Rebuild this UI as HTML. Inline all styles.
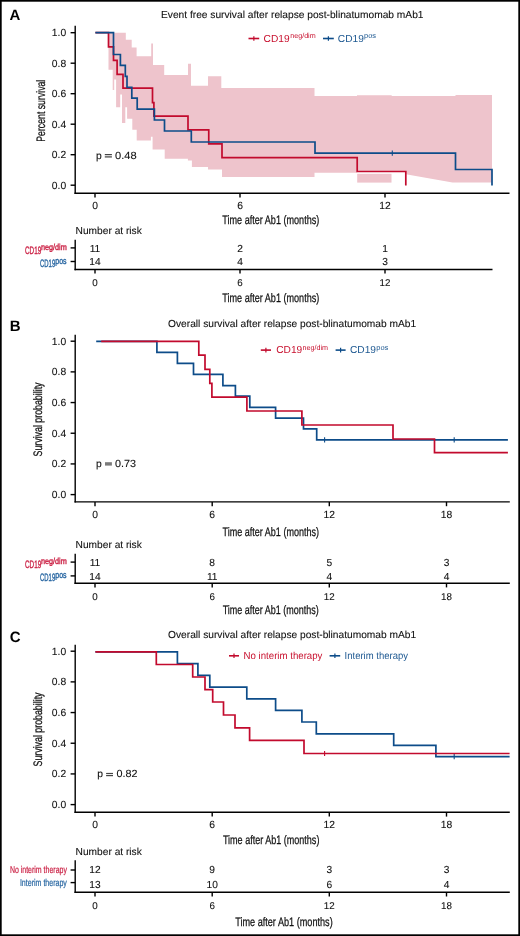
<!DOCTYPE html>
<html><head><meta charset="utf-8"><title>KM plots</title>
<style>html,body{margin:0;padding:0;background:#fff;}svg{display:block;will-change:transform;}text{font-family:"Liberation Sans",sans-serif;text-rendering:geometricPrecision;}</style>
</head><body>
<svg width="520" height="936" viewBox="0 0 520 936">
<rect x="0" y="0" width="520" height="936" fill="#fff"/>
<!-- Panel A -->
<text x="9.60" y="19.80" font-size="15" fill="#000" color="#000" text-anchor="start" font-weight="bold">A</text>
<text x="161.00" y="17.90" font-size="10.2" fill="#111" color="#111" text-anchor="start" font-weight="normal" textLength="262.50" lengthAdjust="spacingAndGlyphs" stroke="#111" stroke-width="0.1">Event free survival after relapse post-blinatumomab mAb1</text>
<polygon fill="#EEC4CC" points="108.5,32.7 125.8,32.7 125.8,39.7 131.7,39.7 131.7,47.6 136.6,47.6 136.6,56.2 151.2,56.2 151.2,43.5 153.0,43.5 153.0,65.0 164.2,65.0 164.2,75.0 188.0,75.0 188.0,63.7 191.0,63.7 191.0,85.7 208.0,85.7 208.0,76.2 221.3,76.2 221.3,88.0 314.5,88.0 314.5,96.0 357.0,96.0 357.0,95.3 391.7,95.3 391.7,96.0 455.5,96.0 455.5,95.0 492.0,95.0 492.0,182.5 452.5,182.5 405.8,174.2 405.8,171.5 357.2,171.5 357.2,172.8 314.5,172.8 314.5,177.0 222.0,177.0 222.0,169.5 208.0,169.5 208.0,167.0 191.9,167.0 191.9,160.4 187.9,160.4 187.9,158.8 164.7,158.8 164.7,149.6 152.6,149.6 152.6,136.8 150.9,136.8 150.9,140.6 136.7,140.6 136.7,129.7 132.3,129.7 132.3,118.8 127.1,118.8 127.1,107.3 125.3,107.3 125.3,122.9 122.0,122.9 122.0,94.6 120.2,94.6 120.2,107.3 116.1,107.3 116.1,79.6 114.2,79.6 114.2,90.0 112.7,90.0 112.7,69.8 108.5,69.8"/>
<rect x="357.2" y="173.8" width="34.3" height="8.8" fill="#EEC4CC"/>
<line x1="75.20" y1="25.80" x2="75.20" y2="194.00" stroke="#000" stroke-width="1.4"/>
<line x1="70.60" y1="32.70" x2="75.20" y2="32.70" stroke="#000" stroke-width="1.4"/>
<text x="66.20" y="36.20" font-size="10.3" fill="#111" color="#111" text-anchor="end" font-weight="normal" stroke="#111" stroke-width="0.1">1.0</text>
<line x1="70.60" y1="63.20" x2="75.20" y2="63.20" stroke="#000" stroke-width="1.4"/>
<text x="66.20" y="66.70" font-size="10.3" fill="#111" color="#111" text-anchor="end" font-weight="normal" stroke="#111" stroke-width="0.1">0.8</text>
<line x1="70.60" y1="93.70" x2="75.20" y2="93.70" stroke="#000" stroke-width="1.4"/>
<text x="66.20" y="97.20" font-size="10.3" fill="#111" color="#111" text-anchor="end" font-weight="normal" stroke="#111" stroke-width="0.1">0.6</text>
<line x1="70.60" y1="124.20" x2="75.20" y2="124.20" stroke="#000" stroke-width="1.4"/>
<text x="66.20" y="127.70" font-size="10.3" fill="#111" color="#111" text-anchor="end" font-weight="normal" stroke="#111" stroke-width="0.1">0.4</text>
<line x1="70.60" y1="154.70" x2="75.20" y2="154.70" stroke="#000" stroke-width="1.4"/>
<text x="66.20" y="158.20" font-size="10.3" fill="#111" color="#111" text-anchor="end" font-weight="normal" stroke="#111" stroke-width="0.1">0.2</text>
<line x1="70.60" y1="185.20" x2="75.20" y2="185.20" stroke="#000" stroke-width="1.4"/>
<text x="66.20" y="188.70" font-size="10.3" fill="#111" color="#111" text-anchor="end" font-weight="normal" stroke="#111" stroke-width="0.1">0.0</text>
<line x1="74.50" y1="193.30" x2="509.50" y2="193.30" stroke="#000" stroke-width="1.4"/>
<line x1="95.00" y1="193.30" x2="95.00" y2="197.60" stroke="#000" stroke-width="1.4"/>
<text x="95.00" y="208.80" font-size="10.3" fill="#111" color="#111" text-anchor="middle" font-weight="normal" stroke="#111" stroke-width="0.1">0</text>
<line x1="240.00" y1="193.30" x2="240.00" y2="197.60" stroke="#000" stroke-width="1.4"/>
<text x="240.00" y="208.80" font-size="10.3" fill="#111" color="#111" text-anchor="middle" font-weight="normal" stroke="#111" stroke-width="0.1">6</text>
<line x1="385.00" y1="193.30" x2="385.00" y2="197.60" stroke="#000" stroke-width="1.4"/>
<text x="385.00" y="208.80" font-size="10.3" fill="#111" color="#111" text-anchor="middle" font-weight="normal" stroke="#111" stroke-width="0.1">12</text>
<text transform="translate(44.60,110.70) rotate(-90)" x="0" y="0" font-size="12.3" fill="#111" stroke="#111" stroke-width="0.25" text-anchor="middle" textLength="62.00" lengthAdjust="spacingAndGlyphs">Percent survival</text>
<text x="222.30" y="224.00" font-size="12.3" fill="#111" color="#111" text-anchor="start" font-weight="normal" textLength="97.00" lengthAdjust="spacingAndGlyphs" stroke="#111" stroke-width="0.25">Time after Ab1 (months)</text>
<path d="M95.40,32.70 H108.50 V46.90 H113.50 V60.30 H117.10 V74.30 H123.00 V88.20 H152.50 V102.60 H153.90 V116.20 H188.00 V129.90 H208.75 V143.80 H222.00 V157.60 H357.20 V171.50 H405.80 V185.60" fill="none" stroke="#C20A2D" stroke-width="1.7" stroke-linejoin="miter" stroke-linecap="butt"/>
<path d="M95.40,32.70 H113.50 V54.50 H120.40 V65.40 H125.30 V76.30 H127.00 V87.30 H131.80 V98.20 H137.20 V109.20 H154.40 V120.00 H164.50 V131.00 H191.30 V142.00 H315.00 V153.10 H455.50 V169.50 H492.00 V185.60" fill="none" stroke="#0D4C89" stroke-width="1.7" stroke-linejoin="miter" stroke-linecap="butt"/>
<line x1="392.30" y1="150.50" x2="392.30" y2="155.70" stroke="#0D4C89" stroke-width="1.1"/>
<line x1="248.50" y1="38.50" x2="259.20" y2="38.50" stroke="#C20A2D" stroke-width="1.6"/>
<line x1="253.85" y1="36.20" x2="253.85" y2="40.80" stroke="#C20A2D" stroke-width="1.2"/>
<text x="263.60" y="41.80" font-size="10.2" fill="#C8102E" color="#C8102E" text-anchor="start" font-weight="normal" textLength="26.00" lengthAdjust="spacingAndGlyphs">CD19</text>
<text x="290.20" y="38.20" font-size="7.2" fill="#C8102E" color="#C8102E" text-anchor="start" font-weight="normal" textLength="25.50" lengthAdjust="spacingAndGlyphs">neg/dim</text>
<line x1="323.00" y1="38.50" x2="333.80" y2="38.50" stroke="#0D4C89" stroke-width="1.6"/>
<line x1="328.40" y1="36.20" x2="328.40" y2="40.80" stroke="#0D4C89" stroke-width="1.2"/>
<text x="337.80" y="41.80" font-size="10.2" fill="#1D5891" color="#1D5891" text-anchor="start" font-weight="normal" textLength="26.00" lengthAdjust="spacingAndGlyphs">CD19</text>
<text x="364.00" y="38.20" font-size="7.2" fill="#1D5891" color="#1D5891" text-anchor="start" font-weight="normal" textLength="12.00" lengthAdjust="spacingAndGlyphs">pos</text>
<text x="96.00" y="159.00" font-size="10.3" fill="#111" color="#111" text-anchor="start" font-weight="normal" stroke="#111" stroke-width="0.1">p</text>
<line x1="104.80" y1="154.60" x2="111.90" y2="154.60" stroke="#444" stroke-width="1.25"/>
<line x1="104.80" y1="156.90" x2="111.90" y2="156.90" stroke="#444" stroke-width="1.25"/>
<text x="115.00" y="159.00" font-size="10.3" fill="#111" color="#111" text-anchor="start" font-weight="normal" textLength="21.60" lengthAdjust="spacingAndGlyphs" stroke="#111" stroke-width="0.1">0.48</text>
<text x="75.60" y="234.20" font-size="10.2" fill="#111" color="#111" text-anchor="start" font-weight="normal" textLength="66.20" lengthAdjust="spacingAndGlyphs" stroke="#111" stroke-width="0.1">Number at risk</text>
<line x1="75.20" y1="239.70" x2="75.20" y2="270.20" stroke="#000" stroke-width="1.4"/>
<line x1="74.50" y1="269.50" x2="492.50" y2="269.50" stroke="#000" stroke-width="1.4"/>
<line x1="70.60" y1="247.90" x2="75.20" y2="247.90" stroke="#000" stroke-width="1.4"/>
<line x1="70.60" y1="261.50" x2="75.20" y2="261.50" stroke="#000" stroke-width="1.4"/>
<line x1="95.00" y1="269.50" x2="95.00" y2="273.60" stroke="#000" stroke-width="1.4"/>
<text x="95.00" y="285.50" font-size="9.8" fill="#111" color="#111" text-anchor="middle" font-weight="normal" stroke="#111" stroke-width="0.1">0</text>
<line x1="240.00" y1="269.50" x2="240.00" y2="273.60" stroke="#000" stroke-width="1.4"/>
<text x="240.00" y="285.50" font-size="9.8" fill="#111" color="#111" text-anchor="middle" font-weight="normal" stroke="#111" stroke-width="0.1">6</text>
<line x1="385.00" y1="269.50" x2="385.00" y2="273.60" stroke="#000" stroke-width="1.4"/>
<text x="385.00" y="285.50" font-size="9.8" fill="#111" color="#111" text-anchor="middle" font-weight="normal" stroke="#111" stroke-width="0.1">12</text>
<text x="95.00" y="251.70" font-size="10.2" fill="#111" color="#111" text-anchor="middle" font-weight="normal" stroke="#111" stroke-width="0.1">11</text>
<text x="95.00" y="265.20" font-size="10.2" fill="#111" color="#111" text-anchor="middle" font-weight="normal" stroke="#111" stroke-width="0.1">14</text>
<text x="240.00" y="251.70" font-size="10.2" fill="#111" color="#111" text-anchor="middle" font-weight="normal" stroke="#111" stroke-width="0.1">2</text>
<text x="240.00" y="265.20" font-size="10.2" fill="#111" color="#111" text-anchor="middle" font-weight="normal" stroke="#111" stroke-width="0.1">4</text>
<text x="385.00" y="251.70" font-size="10.2" fill="#111" color="#111" text-anchor="middle" font-weight="normal" stroke="#111" stroke-width="0.1">1</text>
<text x="385.00" y="265.20" font-size="10.2" fill="#111" color="#111" text-anchor="middle" font-weight="normal" stroke="#111" stroke-width="0.1">3</text>
<text x="25.00" y="253.60" font-size="10.8" fill="#CC2548" color="#CC2548" text-anchor="start" font-weight="normal" textLength="16.20" lengthAdjust="spacingAndGlyphs" stroke="currentColor" stroke-width="0.4">CD19</text>
<text x="40.90" y="249.60" font-size="8.6" fill="#CC2548" color="#CC2548" text-anchor="start" font-weight="normal" textLength="25.80" lengthAdjust="spacingAndGlyphs" stroke="currentColor" stroke-width="0.4">neg/dim</text>
<text x="40.00" y="267.00" font-size="10.8" fill="#2A68A3" color="#2A68A3" text-anchor="start" font-weight="normal" textLength="15.20" lengthAdjust="spacingAndGlyphs" stroke="currentColor" stroke-width="0.4">CD19</text>
<text x="55.30" y="263.50" font-size="9.2" fill="#2A68A3" color="#2A68A3" text-anchor="start" font-weight="normal" textLength="11.20" lengthAdjust="spacingAndGlyphs" stroke="currentColor" stroke-width="0.4">pos</text>
<text x="222.30" y="302.00" font-size="12.3" fill="#111" color="#111" text-anchor="start" font-weight="normal" textLength="97.00" lengthAdjust="spacingAndGlyphs" stroke="#111" stroke-width="0.25">Time after Ab1 (months)</text>
<!-- Panel B -->
<text x="9.80" y="330.80" font-size="15" fill="#000" color="#000" text-anchor="start" font-weight="bold">B</text>
<text x="168.10" y="327.30" font-size="10.2" fill="#111" color="#111" text-anchor="start" font-weight="normal" textLength="248.00" lengthAdjust="spacingAndGlyphs" stroke="#111" stroke-width="0.1">Overall survival after relapse post-blinatumomab mAb1</text>
<line x1="75.20" y1="334.80" x2="75.20" y2="502.60" stroke="#000" stroke-width="1.4"/>
<line x1="70.60" y1="341.20" x2="75.20" y2="341.20" stroke="#000" stroke-width="1.4"/>
<text x="66.20" y="344.70" font-size="10.3" fill="#111" color="#111" text-anchor="end" font-weight="normal" stroke="#111" stroke-width="0.1">1.0</text>
<line x1="70.60" y1="371.88" x2="75.20" y2="371.88" stroke="#000" stroke-width="1.4"/>
<text x="66.20" y="375.38" font-size="10.3" fill="#111" color="#111" text-anchor="end" font-weight="normal" stroke="#111" stroke-width="0.1">0.8</text>
<line x1="70.60" y1="402.56" x2="75.20" y2="402.56" stroke="#000" stroke-width="1.4"/>
<text x="66.20" y="406.06" font-size="10.3" fill="#111" color="#111" text-anchor="end" font-weight="normal" stroke="#111" stroke-width="0.1">0.6</text>
<line x1="70.60" y1="433.24" x2="75.20" y2="433.24" stroke="#000" stroke-width="1.4"/>
<text x="66.20" y="436.74" font-size="10.3" fill="#111" color="#111" text-anchor="end" font-weight="normal" stroke="#111" stroke-width="0.1">0.4</text>
<line x1="70.60" y1="463.92" x2="75.20" y2="463.92" stroke="#000" stroke-width="1.4"/>
<text x="66.20" y="467.42" font-size="10.3" fill="#111" color="#111" text-anchor="end" font-weight="normal" stroke="#111" stroke-width="0.1">0.2</text>
<line x1="70.60" y1="494.60" x2="75.20" y2="494.60" stroke="#000" stroke-width="1.4"/>
<text x="66.20" y="498.10" font-size="10.3" fill="#111" color="#111" text-anchor="end" font-weight="normal" stroke="#111" stroke-width="0.1">0.0</text>
<line x1="74.50" y1="501.90" x2="509.80" y2="501.90" stroke="#000" stroke-width="1.4"/>
<line x1="95.00" y1="501.90" x2="95.00" y2="506.20" stroke="#000" stroke-width="1.4"/>
<text x="95.00" y="517.70" font-size="10.3" fill="#111" color="#111" text-anchor="middle" font-weight="normal" stroke="#111" stroke-width="0.1">0</text>
<line x1="212.20" y1="501.90" x2="212.20" y2="506.20" stroke="#000" stroke-width="1.4"/>
<text x="212.20" y="517.70" font-size="10.3" fill="#111" color="#111" text-anchor="middle" font-weight="normal" stroke="#111" stroke-width="0.1">6</text>
<line x1="329.30" y1="501.90" x2="329.30" y2="506.20" stroke="#000" stroke-width="1.4"/>
<text x="329.30" y="517.70" font-size="10.3" fill="#111" color="#111" text-anchor="middle" font-weight="normal" stroke="#111" stroke-width="0.1">12</text>
<line x1="446.50" y1="501.90" x2="446.50" y2="506.20" stroke="#000" stroke-width="1.4"/>
<text x="446.50" y="517.70" font-size="10.3" fill="#111" color="#111" text-anchor="middle" font-weight="normal" stroke="#111" stroke-width="0.1">18</text>
<text transform="translate(41.90,419.50) rotate(-90)" x="0" y="0" font-size="12.3" fill="#111" stroke="#111" stroke-width="0.25" text-anchor="middle" textLength="74.00" lengthAdjust="spacingAndGlyphs">Survival probability</text>
<text x="222.50" y="536.20" font-size="12.3" fill="#111" color="#111" text-anchor="start" font-weight="normal" textLength="96.50" lengthAdjust="spacingAndGlyphs" stroke="#111" stroke-width="0.25">Time after Ab1 (months)</text>
<path d="M96.20,341.40 H156.90 V352.40 H177.40 V363.40 H193.50 V374.30 H222.90 V385.60 H235.40 V396.20 H249.80 V407.30 H275.60 V418.20 H303.50 V428.80 H316.70 V439.90 H507.90" fill="none" stroke="#0D4C89" stroke-width="1.7" stroke-linejoin="miter" stroke-linecap="butt"/>
<line x1="324.60" y1="437.30" x2="324.60" y2="442.50" stroke="#0D4C89" stroke-width="1.1"/>
<line x1="454.20" y1="437.30" x2="454.20" y2="442.50" stroke="#0D4C89" stroke-width="1.1"/>
<path d="M101.20,341.40 H198.80 V355.20 H205.00 V369.40 H209.80 V383.30 H211.90 V397.10 H246.90 V411.00 H301.90 V425.00 H393.00 V439.00 H434.50 V452.70 H507.90" fill="none" stroke="#C20A2D" stroke-width="1.7" stroke-linejoin="miter" stroke-linecap="butt"/>
<line x1="260.80" y1="350.10" x2="271.00" y2="350.10" stroke="#C20A2D" stroke-width="1.6"/>
<line x1="265.90" y1="347.80" x2="265.90" y2="352.40" stroke="#C20A2D" stroke-width="1.2"/>
<text x="276.20" y="353.30" font-size="10.2" fill="#C8102E" color="#C8102E" text-anchor="start" font-weight="normal" textLength="26.00" lengthAdjust="spacingAndGlyphs">CD19</text>
<text x="302.50" y="349.70" font-size="7.2" fill="#C8102E" color="#C8102E" text-anchor="start" font-weight="normal" textLength="25.50" lengthAdjust="spacingAndGlyphs">neg/dim</text>
<line x1="335.60" y1="350.10" x2="345.60" y2="350.10" stroke="#0D4C89" stroke-width="1.6"/>
<line x1="340.60" y1="347.80" x2="340.60" y2="352.40" stroke="#0D4C89" stroke-width="1.2"/>
<text x="350.00" y="353.30" font-size="10.2" fill="#1D5891" color="#1D5891" text-anchor="start" font-weight="normal" textLength="26.00" lengthAdjust="spacingAndGlyphs">CD19</text>
<text x="376.30" y="349.70" font-size="7.2" fill="#1D5891" color="#1D5891" text-anchor="start" font-weight="normal" textLength="12.00" lengthAdjust="spacingAndGlyphs">pos</text>
<text x="96.00" y="466.90" font-size="10.3" fill="#111" color="#111" text-anchor="start" font-weight="normal" stroke="#111" stroke-width="0.1">p</text>
<rect x="105" y="462.2" width="6.9" height="3.4" fill="#7a7a7a"/>
<text x="115.00" y="466.90" font-size="10.3" fill="#111" color="#111" text-anchor="start" font-weight="normal" textLength="21.00" lengthAdjust="spacingAndGlyphs" stroke="#111" stroke-width="0.1">0.73</text>
<text x="75.60" y="548.30" font-size="10.2" fill="#111" color="#111" text-anchor="start" font-weight="normal" textLength="66.20" lengthAdjust="spacingAndGlyphs" stroke="#111" stroke-width="0.1">Number at risk</text>
<line x1="75.20" y1="553.75" x2="75.20" y2="584.00" stroke="#000" stroke-width="1.4"/>
<line x1="74.50" y1="583.30" x2="509.80" y2="583.30" stroke="#000" stroke-width="1.4"/>
<line x1="70.60" y1="562.10" x2="75.20" y2="562.10" stroke="#000" stroke-width="1.4"/>
<line x1="70.60" y1="575.90" x2="75.20" y2="575.90" stroke="#000" stroke-width="1.4"/>
<line x1="95.00" y1="583.30" x2="95.00" y2="587.40" stroke="#000" stroke-width="1.4"/>
<text x="95.00" y="599.60" font-size="9.8" fill="#111" color="#111" text-anchor="middle" font-weight="normal" stroke="#111" stroke-width="0.1">0</text>
<line x1="212.20" y1="583.30" x2="212.20" y2="587.40" stroke="#000" stroke-width="1.4"/>
<text x="212.20" y="599.60" font-size="9.8" fill="#111" color="#111" text-anchor="middle" font-weight="normal" stroke="#111" stroke-width="0.1">6</text>
<line x1="329.30" y1="583.30" x2="329.30" y2="587.40" stroke="#000" stroke-width="1.4"/>
<text x="329.30" y="599.60" font-size="9.8" fill="#111" color="#111" text-anchor="middle" font-weight="normal" stroke="#111" stroke-width="0.1">12</text>
<line x1="446.50" y1="583.30" x2="446.50" y2="587.40" stroke="#000" stroke-width="1.4"/>
<text x="446.50" y="599.60" font-size="9.8" fill="#111" color="#111" text-anchor="middle" font-weight="normal" stroke="#111" stroke-width="0.1">18</text>
<text x="95.00" y="565.80" font-size="10.2" fill="#111" color="#111" text-anchor="middle" font-weight="normal" stroke="#111" stroke-width="0.1">11</text>
<text x="95.00" y="579.80" font-size="10.2" fill="#111" color="#111" text-anchor="middle" font-weight="normal" stroke="#111" stroke-width="0.1">14</text>
<text x="212.20" y="565.80" font-size="10.2" fill="#111" color="#111" text-anchor="middle" font-weight="normal" stroke="#111" stroke-width="0.1">8</text>
<text x="212.20" y="579.80" font-size="10.2" fill="#111" color="#111" text-anchor="middle" font-weight="normal" stroke="#111" stroke-width="0.1">11</text>
<text x="329.30" y="565.80" font-size="10.2" fill="#111" color="#111" text-anchor="middle" font-weight="normal" stroke="#111" stroke-width="0.1">5</text>
<text x="329.30" y="579.80" font-size="10.2" fill="#111" color="#111" text-anchor="middle" font-weight="normal" stroke="#111" stroke-width="0.1">4</text>
<text x="446.50" y="565.80" font-size="10.2" fill="#111" color="#111" text-anchor="middle" font-weight="normal" stroke="#111" stroke-width="0.1">3</text>
<text x="446.50" y="579.80" font-size="10.2" fill="#111" color="#111" text-anchor="middle" font-weight="normal" stroke="#111" stroke-width="0.1">4</text>
<text x="25.00" y="567.80" font-size="10.8" fill="#CC2548" color="#CC2548" text-anchor="start" font-weight="normal" textLength="16.20" lengthAdjust="spacingAndGlyphs" stroke="currentColor" stroke-width="0.4">CD19</text>
<text x="40.90" y="563.80" font-size="8.6" fill="#CC2548" color="#CC2548" text-anchor="start" font-weight="normal" textLength="25.80" lengthAdjust="spacingAndGlyphs" stroke="currentColor" stroke-width="0.4">neg/dim</text>
<text x="40.00" y="581.20" font-size="10.8" fill="#2A68A3" color="#2A68A3" text-anchor="start" font-weight="normal" textLength="15.20" lengthAdjust="spacingAndGlyphs" stroke="currentColor" stroke-width="0.4">CD19</text>
<text x="55.30" y="577.70" font-size="9.2" fill="#2A68A3" color="#2A68A3" text-anchor="start" font-weight="normal" textLength="11.20" lengthAdjust="spacingAndGlyphs" stroke="currentColor" stroke-width="0.4">pos</text>
<text x="222.70" y="613.90" font-size="12.3" fill="#111" color="#111" text-anchor="start" font-weight="normal" textLength="96.00" lengthAdjust="spacingAndGlyphs" stroke="#111" stroke-width="0.25">Time after Ab1 (months)</text>
<!-- Panel C -->
<text x="9.80" y="642.20" font-size="15" fill="#000" color="#000" text-anchor="start" font-weight="bold">C</text>
<text x="168.10" y="637.80" font-size="10.2" fill="#111" color="#111" text-anchor="start" font-weight="normal" textLength="248.00" lengthAdjust="spacingAndGlyphs" stroke="#111" stroke-width="0.1">Overall survival after relapse post-blinatumomab mAb1</text>
<line x1="75.20" y1="644.80" x2="75.20" y2="813.00" stroke="#000" stroke-width="1.4"/>
<line x1="70.60" y1="651.20" x2="75.20" y2="651.20" stroke="#000" stroke-width="1.4"/>
<text x="66.20" y="654.70" font-size="10.3" fill="#111" color="#111" text-anchor="end" font-weight="normal" stroke="#111" stroke-width="0.1">1.0</text>
<line x1="70.60" y1="681.88" x2="75.20" y2="681.88" stroke="#000" stroke-width="1.4"/>
<text x="66.20" y="685.38" font-size="10.3" fill="#111" color="#111" text-anchor="end" font-weight="normal" stroke="#111" stroke-width="0.1">0.8</text>
<line x1="70.60" y1="712.56" x2="75.20" y2="712.56" stroke="#000" stroke-width="1.4"/>
<text x="66.20" y="716.06" font-size="10.3" fill="#111" color="#111" text-anchor="end" font-weight="normal" stroke="#111" stroke-width="0.1">0.6</text>
<line x1="70.60" y1="743.24" x2="75.20" y2="743.24" stroke="#000" stroke-width="1.4"/>
<text x="66.20" y="746.74" font-size="10.3" fill="#111" color="#111" text-anchor="end" font-weight="normal" stroke="#111" stroke-width="0.1">0.4</text>
<line x1="70.60" y1="773.92" x2="75.20" y2="773.92" stroke="#000" stroke-width="1.4"/>
<text x="66.20" y="777.42" font-size="10.3" fill="#111" color="#111" text-anchor="end" font-weight="normal" stroke="#111" stroke-width="0.1">0.2</text>
<line x1="70.60" y1="804.60" x2="75.20" y2="804.60" stroke="#000" stroke-width="1.4"/>
<text x="66.20" y="808.10" font-size="10.3" fill="#111" color="#111" text-anchor="end" font-weight="normal" stroke="#111" stroke-width="0.1">0.0</text>
<line x1="74.50" y1="812.30" x2="509.80" y2="812.30" stroke="#000" stroke-width="1.4"/>
<line x1="95.00" y1="812.30" x2="95.00" y2="816.60" stroke="#000" stroke-width="1.4"/>
<text x="95.00" y="828.00" font-size="10.3" fill="#111" color="#111" text-anchor="middle" font-weight="normal" stroke="#111" stroke-width="0.1">0</text>
<line x1="212.20" y1="812.30" x2="212.20" y2="816.60" stroke="#000" stroke-width="1.4"/>
<text x="212.20" y="828.00" font-size="10.3" fill="#111" color="#111" text-anchor="middle" font-weight="normal" stroke="#111" stroke-width="0.1">6</text>
<line x1="329.30" y1="812.30" x2="329.30" y2="816.60" stroke="#000" stroke-width="1.4"/>
<text x="329.30" y="828.00" font-size="10.3" fill="#111" color="#111" text-anchor="middle" font-weight="normal" stroke="#111" stroke-width="0.1">12</text>
<line x1="446.50" y1="812.30" x2="446.50" y2="816.60" stroke="#000" stroke-width="1.4"/>
<text x="446.50" y="828.00" font-size="10.3" fill="#111" color="#111" text-anchor="middle" font-weight="normal" stroke="#111" stroke-width="0.1">18</text>
<text transform="translate(41.90,729.50) rotate(-90)" x="0" y="0" font-size="12.3" fill="#111" stroke="#111" stroke-width="0.25" text-anchor="middle" textLength="74.00" lengthAdjust="spacingAndGlyphs">Survival probability</text>
<text x="222.90" y="843.70" font-size="12.3" fill="#111" color="#111" text-anchor="start" font-weight="normal" textLength="96.50" lengthAdjust="spacingAndGlyphs" stroke="#111" stroke-width="0.25">Time after Ab1 (months)</text>
<path d="M95.40,651.80 H177.40 V663.60 H197.90 V675.40 H209.80 V687.20 H246.80 V698.80 H275.60 V710.40 H301.90 V722.00 H316.30 V733.80 H393.70 V745.40 H435.90 V756.60 H509.60" fill="none" stroke="#0D4C89" stroke-width="1.7" stroke-linejoin="miter" stroke-linecap="butt"/>
<line x1="454.20" y1="754.00" x2="454.20" y2="759.20" stroke="#0D4C89" stroke-width="1.1"/>
<path d="M95.40,651.80 H156.30 V664.50 H192.70 V677.00 H205.00 V689.60 H212.70 V702.00 H223.50 V715.00 H235.00 V727.80 H249.60 V740.40 H304.00 V753.50 H509.60" fill="none" stroke="#C20A2D" stroke-width="1.7" stroke-linejoin="miter" stroke-linecap="butt"/>
<line x1="324.60" y1="750.90" x2="324.60" y2="756.10" stroke="#C20A2D" stroke-width="1.1"/>
<line x1="229.00" y1="655.80" x2="239.00" y2="655.80" stroke="#C20A2D" stroke-width="1.6"/>
<line x1="234.00" y1="653.50" x2="234.00" y2="658.10" stroke="#C20A2D" stroke-width="1.2"/>
<text x="243.60" y="659.30" font-size="10.2" fill="#C8102E" color="#C8102E" text-anchor="start" font-weight="normal" textLength="78.80" lengthAdjust="spacingAndGlyphs">No interim therapy</text>
<line x1="329.60" y1="655.80" x2="340.20" y2="655.80" stroke="#0D4C89" stroke-width="1.6"/>
<line x1="334.90" y1="653.50" x2="334.90" y2="658.10" stroke="#0D4C89" stroke-width="1.2"/>
<text x="344.60" y="659.30" font-size="10.2" fill="#1D5891" color="#1D5891" text-anchor="start" font-weight="normal" textLength="63.40" lengthAdjust="spacingAndGlyphs">Interim therapy</text>
<text x="97.30" y="777.20" font-size="10.3" fill="#111" color="#111" text-anchor="start" font-weight="normal" stroke="#111" stroke-width="0.1">p</text>
<line x1="106.10" y1="773.50" x2="113.00" y2="773.50" stroke="#444" stroke-width="1.2"/>
<line x1="106.10" y1="775.60" x2="113.00" y2="775.60" stroke="#444" stroke-width="1.2"/>
<text x="116.40" y="777.20" font-size="10.3" fill="#111" color="#111" text-anchor="start" font-weight="normal" textLength="21.00" lengthAdjust="spacingAndGlyphs" stroke="#111" stroke-width="0.1">0.82</text>
<text x="75.60" y="855.40" font-size="10.2" fill="#111" color="#111" text-anchor="start" font-weight="normal" textLength="66.20" lengthAdjust="spacingAndGlyphs" stroke="#111" stroke-width="0.1">Number at risk</text>
<line x1="75.20" y1="860.20" x2="75.20" y2="892.90" stroke="#000" stroke-width="1.4"/>
<line x1="74.50" y1="892.20" x2="509.80" y2="892.20" stroke="#000" stroke-width="1.4"/>
<line x1="70.60" y1="870.00" x2="75.20" y2="870.00" stroke="#000" stroke-width="1.4"/>
<line x1="70.60" y1="882.60" x2="75.20" y2="882.60" stroke="#000" stroke-width="1.4"/>
<line x1="95.00" y1="892.20" x2="95.00" y2="896.50" stroke="#000" stroke-width="1.4"/>
<text x="95.00" y="908.50" font-size="9.8" fill="#111" color="#111" text-anchor="middle" font-weight="normal" stroke="#111" stroke-width="0.1">0</text>
<line x1="212.20" y1="892.20" x2="212.20" y2="896.50" stroke="#000" stroke-width="1.4"/>
<text x="212.20" y="908.50" font-size="9.8" fill="#111" color="#111" text-anchor="middle" font-weight="normal" stroke="#111" stroke-width="0.1">6</text>
<line x1="329.30" y1="892.20" x2="329.30" y2="896.50" stroke="#000" stroke-width="1.4"/>
<text x="329.30" y="908.50" font-size="9.8" fill="#111" color="#111" text-anchor="middle" font-weight="normal" stroke="#111" stroke-width="0.1">12</text>
<line x1="446.50" y1="892.20" x2="446.50" y2="896.50" stroke="#000" stroke-width="1.4"/>
<text x="446.50" y="908.50" font-size="9.8" fill="#111" color="#111" text-anchor="middle" font-weight="normal" stroke="#111" stroke-width="0.1">18</text>
<text x="95.00" y="872.90" font-size="10.2" fill="#111" color="#111" text-anchor="middle" font-weight="normal" stroke="#111" stroke-width="0.1">12</text>
<text x="95.00" y="887.50" font-size="10.2" fill="#111" color="#111" text-anchor="middle" font-weight="normal" stroke="#111" stroke-width="0.1">13</text>
<text x="212.20" y="872.90" font-size="10.2" fill="#111" color="#111" text-anchor="middle" font-weight="normal" stroke="#111" stroke-width="0.1">9</text>
<text x="212.20" y="887.50" font-size="10.2" fill="#111" color="#111" text-anchor="middle" font-weight="normal" stroke="#111" stroke-width="0.1">10</text>
<text x="329.30" y="872.90" font-size="10.2" fill="#111" color="#111" text-anchor="middle" font-weight="normal" stroke="#111" stroke-width="0.1">3</text>
<text x="329.30" y="887.50" font-size="10.2" fill="#111" color="#111" text-anchor="middle" font-weight="normal" stroke="#111" stroke-width="0.1">6</text>
<text x="446.50" y="872.90" font-size="10.2" fill="#111" color="#111" text-anchor="middle" font-weight="normal" stroke="#111" stroke-width="0.1">3</text>
<text x="446.50" y="887.50" font-size="10.2" fill="#111" color="#111" text-anchor="middle" font-weight="normal" stroke="#111" stroke-width="0.1">4</text>
<text x="9.90" y="872.80" font-size="9.9" fill="#CC2548" color="#CC2548" text-anchor="start" font-weight="normal" textLength="57.00" lengthAdjust="spacingAndGlyphs" stroke="currentColor" stroke-width="0.22">No interim therapy</text>
<text x="19.90" y="885.60" font-size="9.9" fill="#2A68A3" color="#2A68A3" text-anchor="start" font-weight="normal" textLength="47.00" lengthAdjust="spacingAndGlyphs" stroke="currentColor" stroke-width="0.22">Interim therapy</text>
<text x="235.20" y="926.30" font-size="12.3" fill="#111" color="#111" text-anchor="start" font-weight="normal" textLength="97.50" lengthAdjust="spacingAndGlyphs" stroke="#111" stroke-width="0.25">Time after Ab1 (months)</text>
<rect x="0" y="0" width="520" height="936" fill="none" stroke="#000" stroke-width="3.4"/>
</svg>
</body></html>
